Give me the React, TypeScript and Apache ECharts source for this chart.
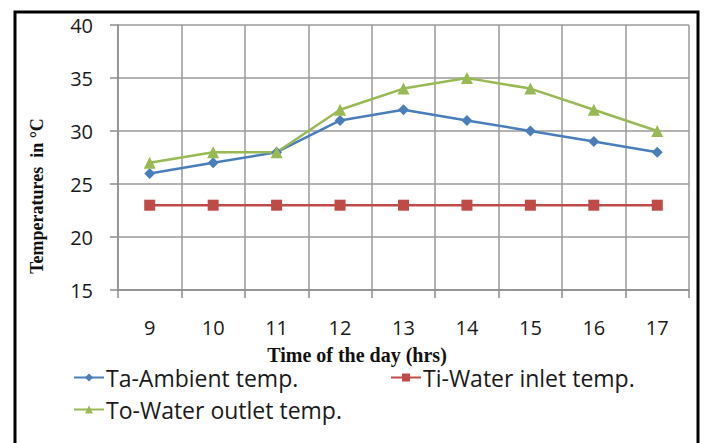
import React, { useEffect, useRef } from "react";
import * as echarts from "echarts";

const hours = ["9", "10", "11", "12", "13", "14", "15", "16", "17"];
const ambient = [26, 27, 28, 31, 32, 31, 30, 29, 28];
const inlet = [23, 23, 23, 23, 23, 23, 23, 23, 23];
const outlet = [27, 28, 28, 32, 34, 35, 34, 32, 30];

const names = ["Ta-Ambient temp.", "Ti-Water inlet temp.", "To-Water outlet temp."];
const xTitle = "Time of the day (hrs)";
const yTitle = "Temperatures  in °C";

export default function App() {
  const ref = useRef<HTMLDivElement>(null);
  useEffect(() => {
    const chart = echarts.init(ref.current!, null, { renderer: "svg" });
    const font = "'Open Sans', 'Noto Sans', sans-serif";
    const serif = "'Liberation Serif', 'DejaVu Serif', serif";
    const legendText = { fontFamily: font, fontSize: 23, color: "#1a1a1a", padding: [0, 0, 0, -3] };
    const legendBase = { itemWidth: 30, itemHeight: 10, padding: 0, textStyle: legendText };
    chart.setOption({
      animation: false,
      backgroundColor: "#fff",
      grid: { left: 118, right: 16, top: 25, bottom: 153, containLabel: false },
      xAxis: {
        type: "category",
        data: hours,
        boundaryGap: true,
        axisLine: { lineStyle: { color: "#8c8c8c", width: 1.5 } },
        axisTick: { show: true, length: 8, lineStyle: { color: "#8c8c8c", width: 1.5 } },
        axisLabel: { fontFamily: font, fontSize: 20, color: "#1a1a1a", margin: 27 },
        splitLine: { show: true, lineStyle: { color: "#9a9a9a", width: 1.5 } },
      },
      yAxis: {
        type: "value",
        min: 15,
        max: 40,
        interval: 5,
        axisLine: { show: true, lineStyle: { color: "#8c8c8c", width: 1.5 } },
        axisTick: { show: true, length: 8, lineStyle: { color: "#8c8c8c", width: 1.5 } },
        axisLabel: { fontFamily: font, fontSize: 20, color: "#1a1a1a", margin: 25 },
        splitLine: { show: true, lineStyle: { color: "#9a9a9a", width: 1.5 } },
      },
      legend: [
        { ...legendBase, data: [names[0]], left: 73, top: 366 },
        { ...legendBase, data: [names[1]], left: 390, top: 366 },
        { ...legendBase, data: [names[2]], left: 73, top: 398 },
      ],
      graphic: [
        {
          type: "rect",
          shape: { x: 15, y: 12, width: 683, height: 460 },
          style: { fill: "none", stroke: "#000", lineWidth: 3 },
          silent: true,
        },
        {
          type: "text",
          x: 357,
          y: 355,
          style: {
            text: xTitle,
            fontFamily: serif,
            fontWeight: "bold",
            fontSize: 20,
            fill: "#111",
            align: "center",
            verticalAlign: "middle",
          },
          silent: true,
        },
        {
          type: "text",
          x: 37,
          y: 196,
          rotation: Math.PI / 2,
          style: {
            text: yTitle,
            fontFamily: serif,
            fontWeight: "bold",
            fontSize: 18,
            fill: "#111",
            align: "center",
            verticalAlign: "middle",
          },
          silent: true,
        },
      ],
      series: [
        {
          name: names[0],
          type: "line",
          data: ambient,
          symbol: "diamond",
          symbolSize: 11,
          itemStyle: { color: "#4a7ebb" },
          lineStyle: { color: "#4a7ebb", width: 2.5 },
        },
        {
          name: names[1],
          type: "line",
          data: inlet,
          symbol: "rect",
          symbolSize: 11,
          itemStyle: { color: "#be4b48" },
          lineStyle: { color: "#be4b48", width: 2.5 },
        },
        {
          name: names[2],
          type: "line",
          data: outlet,
          symbol: "triangle",
          symbolSize: 12,
          itemStyle: { color: "#98b954" },
          lineStyle: { color: "#98b954", width: 2.5 },
        },
      ],
    });
    return () => chart.dispose();
  }, []);
  return (
    <div
      ref={ref}
      style={{ position: "absolute", left: 0, top: 0, width: 705, height: 443 }}
    />
  );
}
